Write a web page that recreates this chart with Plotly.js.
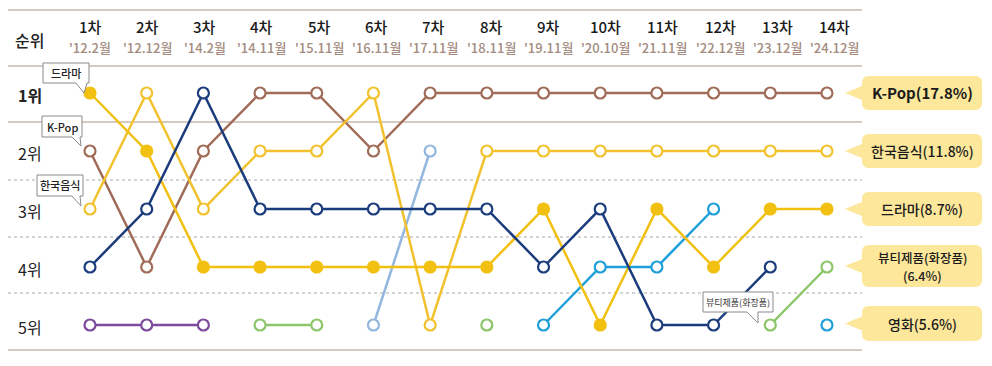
<!DOCTYPE html>
<html><head><meta charset="utf-8">
<script src="https://cdn.plot.ly/plotly-3.0.1.min.js"></script>
<style>html,body{margin:0;padding:0;background:#fff}#c{width:992px;height:366px}</style>
</head><body><div id="c"></div>
<script>
const rounds = ['1차','2차','3차','4차','5차','6차','7차','8차','9차','10차','11차','12차','13차','14차'];
const dates = ["'12.2월","'12.12월","'14.2월","'14.11월","'15.11월","'16.11월","'17.11월","'18.11월","'19.11월","'20.10월","'21.11월","'22.12월","'23.12월","'24.12월"];
const rankLabels = ['1위','2위','3위','4위','5위'];
const rankValues = [1,2,3,4,5];

const kpop       = [2,4,2,1,1,2,1,1,1,1,1,1,1,1];
const koreanFood = [3,1,3,2,2,1,5,2,2,2,2,2,2,2];
const drama      = [1,2,4,4,4,4,4,4,3,5,3,4,3,3];
const navySeries = [4,3,1,3,3,3,3,3,4,3,5,5,4,null];
const purpleSeries = [5,5,5,null,null,null,null,null,null,null,null,null,null,null];
const beauty     = [null,null,null,5,5,null,null,5,null,null,null,null,5,4];
const lightBlueSeries = [null,null,null,null,null,5,2,null,null,null,null,null,null,null];
const movie      = [null,null,null,null,null,null,null,null,5,4,4,3,null,5];

const leftCallouts = ['드라마','K-Pop','한국음식'];
const rightCallouts = [['K-Pop(17.8%)'],['한국음식(11.8%)'],['드라마(8.7%)'],['뷰티제품(화장품)','(6.4%)'],['영화(5.6%)']];
const beautyCallout = '뷰티제품(화장품)';

const W = 992, H = 366;
const px = x => x / W;
const py = y => 1 - y / H;
const xs = rounds.map((_, i) => i + 1);
const FONT = '"Noto Sans CJK KR", "Noto Sans", sans-serif';

function series(name, vals, color, filled) {
  return {
    type: 'scatter', mode: 'lines+markers', name: name, x: xs, y: vals,
    connectgaps: false,
    line: {color: color, width: 2.5},
    marker: {size: 11, color: filled ? color : '#ffffff', line: {color: color, width: 2.2}},
    hoverinfo: 'skip'
  };
}

const data = [
  series('기타(보라)', purpleSeries, '#7d4a9c', false),
  series('기타(하늘)', lightBlueSeries, '#93b7de', false),
  series('뷰티제품(화장품)', beauty, '#8cc56a', false),
  series('영화', movie, '#1e9fda', false),
  series('K-Pop', kpop, '#a06c58', false),
  series('한국음식', koreanFood, '#f2c22e', false),
  series('드라마', drama, '#f2c011', true),
  series('기타(남색)', navySeries, '#1b3c7c', false)
];

function path(pts) {
  return pts.map((p, i) => (i === 0 ? 'M' : 'L') + px(p[0]).toFixed(5) + ',' + py(p[1]).toFixed(5)).join(' ') + ' Z';
}
function roundBox(x0, y0, x1, y1, r, tipX) {
  const c = (y0 + y1) / 2;
  const P = (x, y) => px(x).toFixed(5) + ',' + py(y).toFixed(5);
  return 'M' + P(x0 + r, y0) + ' L' + P(x1 - r, y0) + ' Q' + P(x1, y0) + ' ' + P(x1, y0 + r) +
    ' L' + P(x1, y1 - r) + ' Q' + P(x1, y1) + ' ' + P(x1 - r, y1) +
    ' L' + P(x0 + r, y1) + ' Q' + P(x0, y1) + ' ' + P(x0, y1 - r) +
    ' L' + P(x0, c + 7) + ' L' + P(tipX, c) + ' L' + P(x0, c - 7) +
    ' L' + P(x0, y0 + r) + ' Q' + P(x0, y0) + ' ' + P(x0 + r, y0) + ' Z';
}

const shapes = [];
[10, 66, 122, 350].forEach(y => shapes.push({type: 'line', xref: 'paper', yref: 'paper', x0: px(8), x1: px(862), y0: py(y), y1: py(y), line: {color: '#c9b7ad', width: 1.6}, layer: 'below'}));
[180, 237, 293].forEach(y => shapes.push({type: 'line', xref: 'paper', yref: 'paper', x0: px(8), x1: px(862), y0: py(y), y1: py(y), line: {color: '#a9a9a9', width: 1.1, dash: 'dot'}, layer: 'below'}));

const leftBoxes = [
  {b: [43, 63, 89, 83], t: [[76, 83], [84, 93], [87, 83]]},
  {b: [42, 116, 82, 137], t: [[72, 137], [81, 146], [80, 137]]},
  {b: [37, 175, 83, 196], t: [[72, 196], [81, 206], [80, 196]]}
];
leftBoxes.forEach(o => {
  const [x0, y0, x1, y1] = o.b;
  shapes.push({type: 'path', xref: 'paper', yref: 'paper', layer: 'above',
    path: path([[x0, y0], [x1, y0], [x1, y1], o.t[2], o.t[1], o.t[0], [x0, y1]]),
    fillcolor: '#ffffff', line: {color: '#8a8a8a', width: 1}});
});
shapes.push({type: 'path', xref: 'paper', yref: 'paper', layer: 'above',
  path: path([[703, 292], [773, 292], [773, 312], [758, 312], [758, 323], [747, 312], [703, 312]]),
  fillcolor: '#ffffff', line: {color: '#8a8a8a', width: 1}});

const rightBoxes = [[76, 110], [134, 168], [192, 226], [245, 287], [306, 341]];
rightBoxes.forEach(b => shapes.push({type: 'path', xref: 'paper', yref: 'paper', layer: 'above',
  path: roundBox(862, b[0], 982, b[1], 7, 845), fillcolor: '#fce79b', line: {width: 0}}));

const annotations = [];
annotations.push({xref: 'paper', yref: 'paper', x: px(29), y: py(40), text: '순위', showarrow: false,
  font: {family: FONT, size: 16, color: '#222', weight: 500}, xanchor: 'center', yanchor: 'middle'});
rounds.forEach((r, i) => {
  annotations.push({xref: 'x', yref: 'paper', x: i + 1, xshift: i * 0.6, y: py(27), text: r, showarrow: false,
    font: {family: FONT, size: 15, color: '#1a1a1a', weight: 500}, xanchor: 'center', yanchor: 'middle'});
  annotations.push({xref: 'x', yref: 'paper', x: i + 1, xshift: i * 0.6, y: py(47), text: dates[i], showarrow: false,
    font: {family: FONT, size: 13, color: '#a38c80', weight: 500}, xanchor: 'center', yanchor: 'middle'});
});
rankLabels.forEach((t, i) => annotations.push({xref: 'paper', yref: 'y', x: px(30), y: rankValues[i], yshift: -2,
  text: t, showarrow: false,
  font: {family: FONT, size: 16, color: '#222', weight: i === 0 ? 700 : 400}, xanchor: 'center', yanchor: 'middle'}));
const leftCenters = [[66, 73], [62, 126.5], [60, 185.5]];
leftCallouts.forEach((t, i) => annotations.push({xref: 'paper', yref: 'paper', x: px(leftCenters[i][0]), y: py(leftCenters[i][1]),
  text: t, showarrow: false, font: {family: FONT, size: 11, color: '#222', weight: 500}, xanchor: 'center', yanchor: 'middle'}));
annotations.push({xref: 'paper', yref: 'paper', x: px(738), y: py(302), text: beautyCallout, showarrow: false,
  font: {family: FONT, size: 9, color: '#333'}, xanchor: 'center', yanchor: 'middle'});
rightCallouts.forEach((lines, i) => {
  const b = rightBoxes[i];
  const c = (b[0] + b[1]) / 2;
  lines.forEach((t, j) => {
    const yc = lines.length === 1 ? c : c + (j === 0 ? -9 : 9);
    annotations.push({xref: 'paper', yref: 'paper', x: px(922), y: py(yc), text: t,
      showarrow: false, font: {family: FONT, size: i === 0 ? 15 : (lines.length > 1 ? 12.5 : 14), color: '#1a1a1a', weight: i === 0 ? 700 : 500},
      xanchor: 'center', yanchor: 'middle', align: 'center'});
  });
});

const x1px = 90, slopeX = 56.69, y1px = 93, slopeY = 58;
const layout = {
  width: W, height: H, margin: {l: 0, r: 0, t: 0, b: 0, pad: 0},
  paper_bgcolor: '#ffffff', plot_bgcolor: '#ffffff', showlegend: false,
  xaxis: {range: [1 - x1px / slopeX, 1 + (W - x1px) / slopeX], visible: false, fixedrange: true},
  yaxis: {range: [1 + (H - y1px) / slopeY, 1 - y1px / slopeY], visible: false, fixedrange: true},
  shapes: shapes, annotations: annotations
};
Plotly.newPlot('c', data, layout, {displayModeBar: false, staticPlot: true});
</script></body></html>
